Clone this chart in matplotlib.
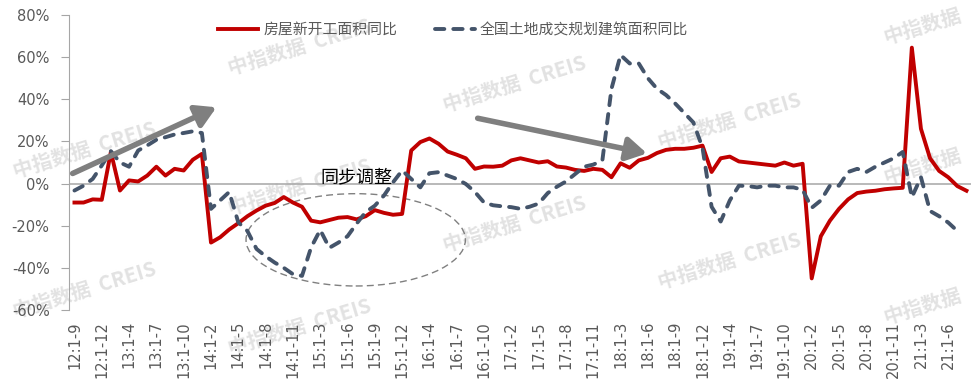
import matplotlib
matplotlib.use("Agg")
from matplotlib import pyplot as plt
from matplotlib.patches import Ellipse
import numpy as np

# 房屋新开工面积同比 (%), 12:1-9 .. 21:1-8, one value per month (1-2 combined)
new_start = [-9.0, -9.0, -7.5, -7.7,
             15.0, -3.3, 1.5, 1.0, 3.8, 8.0, 3.8, 7.0, 6.2, 11.3, 14.1,
             -28.0, -25.5, -21.8, -18.8, -15.5, -12.8, -10.5, -9.2, -6.4, -9.0, -11.0,
             -17.6, -18.4, -17.3, -16.2, -15.9, -17.0, -15.5, -12.6, -13.9, -14.8, -14.4,
             15.7, 19.7, 21.4, 18.9, 15.2, 13.7, 12.0, 7.0, 8.1, 8.0, 8.5,
             11.0, 12.0, 11.0, 10.0, 10.6, 8.1, 7.6, 6.5, 6.0, 7.0, 6.5,
             3.0, 9.6, 7.5, 11.0, 12.2, 14.5, 16.0, 16.5, 16.5, 17.0, 18.0,
             5.5, 12.0, 12.8, 10.5, 10.0, 9.5, 9.0, 8.5, 10.0, 8.5, 9.4,
             -45.0, -25.0, -17.6, -12.0, -7.5, -4.5, -3.8, -3.4, -2.7, -2.3, -2.0,
             64.5, 26.0, 12.0, 6.0, 3.0, -1.2, -3.4]

# 全国土地成交规划建筑面积同比 (%)
land_area = [-3.3, -1.0, 2.2, 8.6,
             15.4, 10.0, 8.0, 15.7, 18.1, 20.8, 22.0, 23.3, 24.0, 24.8, 24.0,
             -12.0, -8.0, -4.0, -18.4, -22.5, -31.0, -34.5, -37.5, -40.0, -43.0, -43.8,
             -30.3, -22.0, -30.5, -28.0, -25.0, -19.0, -13.5, -10.5, -5.7, 0.6, 6.2,
             2.2, -1.8, 4.9, 5.4, 3.8, 2.2, -0.2, -4.0, -9.0, -10.3, -10.8,
             -11.2, -12.0, -11.0, -9.5, -4.5, -1.5, 1.0, 4.5, 8.0, 9.0, 11.0,
             45.0, 61.0, 57.0, 57.0, 50.0, 45.0, 42.0, 38.0, 33.5, 29.0, 17.0,
             -11.0, -18.0, -8.0, -1.0, -1.2, -1.8, -1.0, -1.0, -1.8, -1.8, -3.0,
             -11.5, -8.0, -1.0, -1.0, 5.5, 7.0, 5.5, 8.0, 10.0, 12.0, 15.0,
             -6.5, 3.0, -13.0, -15.5, -18.5, -22.5, np.nan]

tick_labels = ["12:1-9", "12:1-12", "13:1-4", "13:1-7", "13:1-10", "14:1-2", "14:1-5",
               "14:1-8", "14:1-11", "15:1-3", "15:1-6", "15:1-9", "15:1-12", "16:1-4",
               "16:1-7", "16:1-10", "17:1-2", "17:1-5", "17:1-8", "17:1-11", "18:1-3",
               "18:1-6", "18:1-9", "18:1-12", "19:1-4", "19:1-7", "19:1-10", "20:1-2",
               "20:1-5", "20:1-8", "20:1-11", "21:1-3", "21:1-6"]
y_ticks = [80, 60, 40, 20, 0, -20, -40, -60]

CJK = ["Noto Sans CJK SC", "DejaVu Sans"]
W, H = 975, 386
fig = plt.figure(figsize=(W / 100, H / 100), dpi=100)
ax = fig.add_axes([69 / W, 1 - 310 / H, (971 - 69) / W, (310 - 15) / H])
ax.patch.set_alpha(0)

# watermark tiles (only the ones that fit on the canvas)
for c in range(0, 5):
    for r in range(-2, 3):
        px = 85 + 215 * c
        py = 150 + 37 * c + 140 * r
        txt = "中指数据  CREIS"
        if c == 4:
            txt = "中指数据"
            px, py = 922, py + 8
        if 24 <= py <= H - 24:
            ax.text(px / W, 1 - py / H, txt, transform=fig.transFigure,
                    rotation=17, ha="center", va="center", fontsize=14.5,
                    fontweight="bold", color="#e2e2e2", family=CJK,
                    clip_on=False, zorder=0)

x = np.arange(len(new_start))
ax.axhline(0, color="#a6a6a6", lw=1.1, zorder=1)
ax.plot(x, new_start, color="#C00000", lw=2.8, solid_joinstyle="round",
        label="房屋新开工面积同比", zorder=3)
ax.plot(x, land_area, color="#44546A", lw=2.8, dashes=(2.4, 2.3),
        dash_capstyle="round", label="全国土地成交规划建筑面积同比", zorder=4)

# annotations
arrow = dict(arrowstyle="-|>,head_length=1.2,head_width=0.7", lw=4,
             color="#7f7f7f", shrinkA=0, shrinkB=0, mutation_scale=10)
ax.annotate("", xy=(15.6, 36.2), xytext=(-0.2, 4.8), arrowprops=arrow, zorder=5)
ax.annotate("", xy=(62.9, 14.3), xytext=(44.3, 31.0), arrowprops=arrow, zorder=5)
ax.add_patch(Ellipse((30.9, -26.7), 24.1, 43.8, fill=False, ec="#808080",
                     lw=1, ls=(0, (5, 3)), zorder=2))
ax.text(31.0, 3.2, "同步调整", ha="center", va="center", fontsize=13,
        color="black", family=CJK, zorder=6)

ax.set_xlim(-0.6, 98.5)
ax.set_ylim(-60, 80)
ax.set_yticks(y_ticks)
ax.set_yticklabels([f"{v}%" for v in y_ticks], color="#595959", fontsize=10.5)
ax.set_xticks(np.arange(0, len(tick_labels) * 3, 3))
ax.set_xticklabels(tick_labels, rotation=90, color="#595959", fontsize=10.5,
                   va="top", ha="center")
ax.tick_params(axis="x", length=0, pad=8)
ax.tick_params(axis="y", length=6, color="#a6a6a6", pad=8)
for s in ["top", "right", "bottom"]:
    ax.spines[s].set_visible(False)
ax.spines["left"].set_color("#a6a6a6")

leg = ax.legend(loc="center", bbox_to_anchor=(0.426, 0.949), ncol=2, frameon=False,
                handlelength=2.7, handletextpad=0.35, columnspacing=2.5,
                prop={"family": CJK, "size": 10.7})
for t in leg.get_texts():
    t.set_color("#595959")

fig.savefig("out.png", dpi=100)
